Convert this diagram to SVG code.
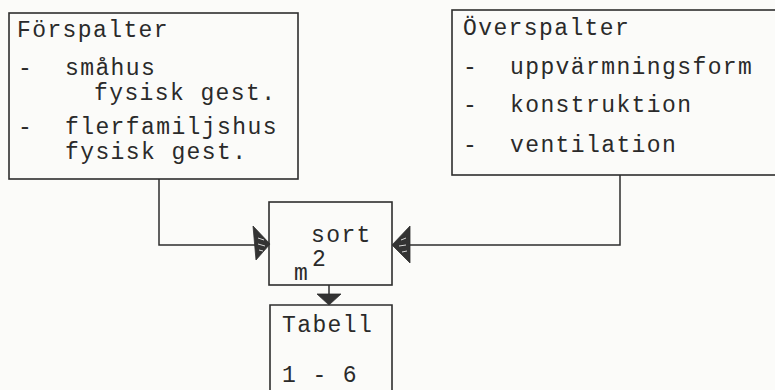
<svg xmlns="http://www.w3.org/2000/svg" width="775" height="390" viewBox="0 0 775 390">
  <style>
    .box { fill: none; stroke: #2e2e2e; stroke-width: 1.6; }
    .wire { fill: none; stroke: #2e2e2e; stroke-width: 1.5; }
    .head { fill: #333333; stroke: #2e2e2e; stroke-width: 0.8; }
    .hatch { stroke: #d8d8d8; stroke-width: 1; }
    text { font-family: "Liberation Mono", "DejaVu Sans Mono", monospace; font-size: 23px; letter-spacing: 1.4px; fill: #2a2a2a; }
  </style>
  <rect x="0" y="0" width="775" height="390" fill="#fbfbf9"/>

  <!-- row headings -->
  <g id="forspalter">
    <rect class="box" x="9" y="13" width="289" height="166"/>
    <text x="17" y="37">Förspalter</text>
    <text x="18" y="75">-</text>
    <text x="65" y="75">småhus</text>
    <text x="94" y="100">fysisk gest.</text>
    <text x="18" y="134">-</text>
    <text x="65" y="134">flerfamiljshus</text>
    <text x="65" y="159">fysisk gest.</text>
  </g>

  <!-- column headings -->
  <g id="overspalter">
    <rect class="box" x="452" y="10" width="330" height="165"/>
    <text x="463" y="35">Överspalter</text>
    <text x="463" y="74">-</text>
    <text x="510" y="74">uppvärmningsform</text>
    <text x="463" y="112">-</text>
    <text x="510" y="112">konstruktion</text>
    <text x="463" y="152">-</text>
    <text x="510" y="152">ventilation</text>
  </g>

  <!-- sorting step -->
  <g id="sort">
    <rect class="box" x="269" y="202" width="123" height="83"/>
    <text x="311" y="242">sort</text>
    <text x="312" y="266">2</text>
    <text x="294" y="280">m</text>
  </g>

  <!-- resulting tables -->
  <g id="tabell">
    <path class="box" d="M270,392 V305 H392 V392"/>
    <text x="282" y="332">Tabell</text>
    <text x="282" y="382">1 - 6</text>
  </g>

  <g id="connectors">
    <path class="wire" d="M159,179 V245 H256"/>
    <path class="wire" d="M620,175 V245 H408"/>
    <path class="wire" d="M329,285 V296"/>
    <polygon class="head" points="253,226 270,244 256,260"/>
    <path class="hatch" d="M258,238 L264,240 M258,244 L265,246 M259,250 L263,251"/>
    <polygon class="head" points="410,226 392,245 410,263"/>
    <path class="hatch" d="M401,240 L406,238 M399,246 L406,245 M402,252 L407,251"/>
    <polygon class="head" points="317,294 341,294 329,305"/>
  </g>
</svg>
